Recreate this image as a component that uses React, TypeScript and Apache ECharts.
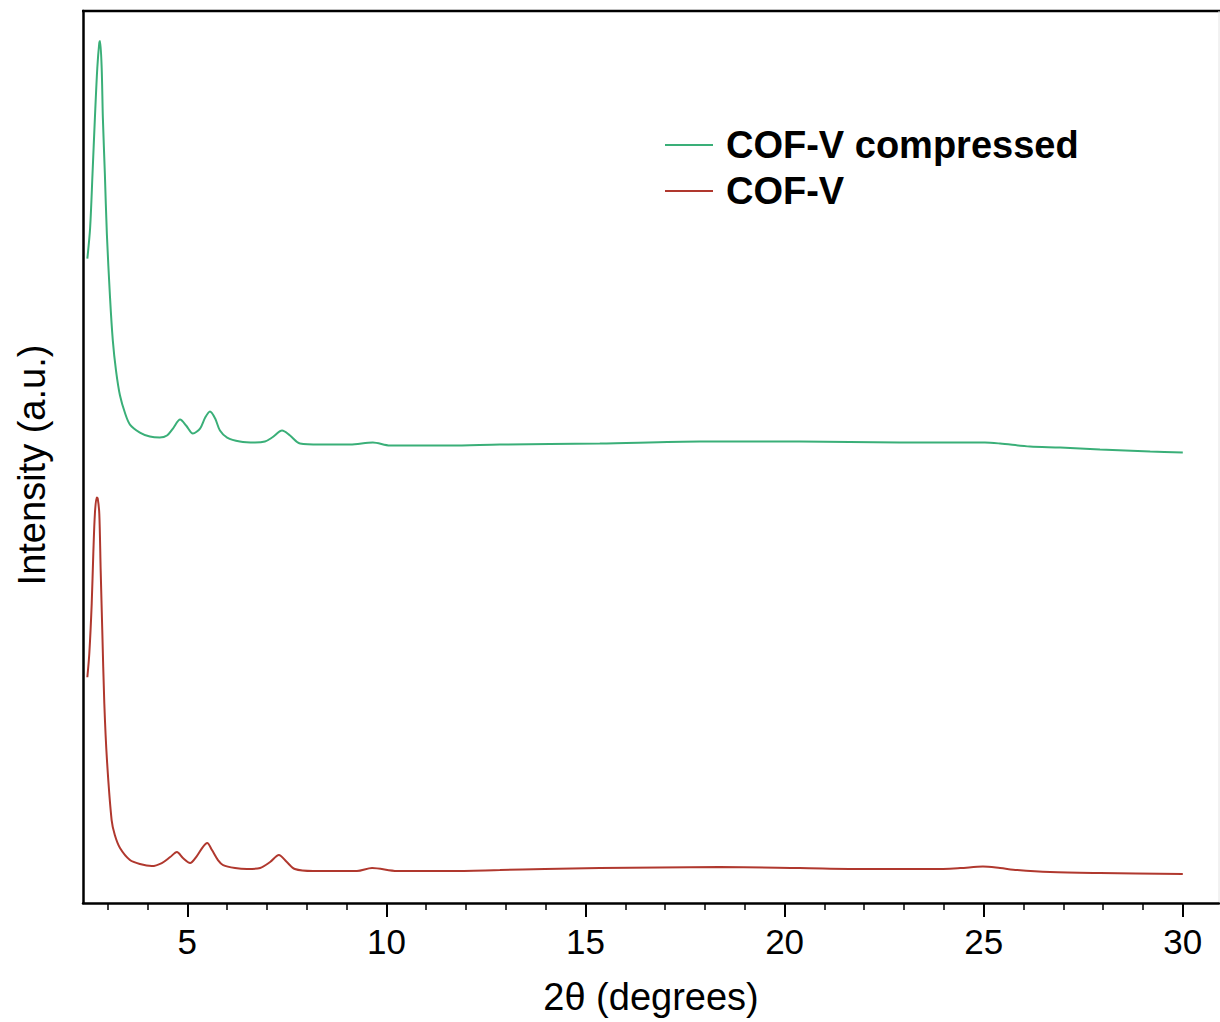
import React, { useEffect, useRef } from "react";
import * as echarts from "echarts";

// 2θ positions (degrees) and intensities (a.u.)
const compressedX = [2.49, 2.56, 2.62, 2.68, 2.74, 2.79, 2.81, 2.85, 2.88, 2.93, 2.98, 3.06, 3.13, 3.21, 3.31, 3.44, 3.56, 3.81, 4.06, 4.31, 4.49, 4.64, 4.82, 4.97, 5.14, 5.32, 5.45, 5.57, 5.70, 5.82, 6.0, 6.32, 6.7, 6.95, 7.13, 7.38, 7.58, 7.83, 8.33, 9.09, 9.66, 10.09, 11.6, 12.85, 15.36, 17.87, 20.38, 22.89, 25.03, 25.41, 26.16, 26.92, 27.92, 29.18, 30.0];
const compressedY = [645, 676, 730, 786, 836, 861, 863, 836, 786, 730, 670, 606, 563, 533, 508, 490, 479, 471, 467, 466, 468, 475, 484, 478, 470, 475, 486, 492, 485, 473, 466, 462, 461, 462, 466, 473, 468, 460, 459, 459, 461, 458, 458, 459, 460, 462, 462, 461, 461, 460, 457, 456, 454, 452, 451];

const pristineX = [2.49, 2.54, 2.6, 2.64, 2.68, 2.725, 2.75, 2.79, 2.825, 2.865, 2.916, 2.983, 3.1, 3.18, 3.31, 3.56, 3.81, 4.11, 4.36, 4.57, 4.74, 4.89, 5.07, 5.24, 5.39, 5.5, 5.62, 5.77, 5.9, 6.2, 6.5, 6.83, 7.08, 7.3, 7.5, 7.7, 8.16, 9.26, 9.64, 10.27, 11.6, 12.85, 13.98, 15.36, 18.37, 20.38, 22.07, 23.73, 24.41, 24.98, 25.41, 25.84, 26.67, 27.92, 30.0];
const pristineY = [226, 250, 300, 350, 390, 406, 405, 390, 333, 273, 200, 143, 83, 68, 55, 43, 39, 37, 40, 46, 51, 45, 40, 47, 56, 60, 53, 43, 38, 35, 34, 35, 41, 48, 41, 34, 32, 32, 35, 32, 32, 33, 34, 35, 36, 35, 34, 34, 35, 36.5, 35, 33, 31, 30, 29];

const xTickLabels = [5, 10, 15, 20, 25, 30];
const xMinorTicks = [3, 4, 6, 7, 8, 9, 11, 12, 13, 14, 16, 17, 18, 19, 21, 22, 23, 24, 26, 27, 28, 29];

const seriesNames = ["COF-V compressed", "COF-V"];
const seriesColors = ["#3aaf78", "#b0382e"];

const FONT = "'Liberation Sans', Arial, Helvetica, sans-serif";

export default function App() {
  const ref = useRef<HTMLDivElement>(null);

  useEffect(() => {
    if (!ref.current) return;
    const chart = echarts.init(ref.current, undefined, { renderer: "svg" });
    const X_MIN = 2.381;
    const X_MAX = 30.909;
    const zip = (xs: number[], ys: number[]) => xs.map((x, i) => [x, ys[i]]);

    chart.setOption({
      animation: false,
      backgroundColor: "#ffffff",
      grid: { left: 83, right: 1, top: 11, bottom: 119, containLabel: false },
      legend: {
        orient: "vertical",
        left: 660,
        top: 121,
        itemWidth: 48,
        itemHeight: 2,
        itemGap: 8,
        icon: "rect",
        data: seriesNames,
        textStyle: {
          fontFamily: FONT,
          fontSize: 38,
          fontWeight: "bold",
          color: "#000",
          padding: [0, 0, 0, 8],
        },
      },
      xAxis: [
        {
          type: "value",
          min: X_MIN,
          max: X_MAX,
          position: "bottom",
          splitLine: { show: false },
          axisLine: { show: true, lineStyle: { color: "#000", width: 2.5 } },
          axisTick: {
            show: true,
            customValues: xTickLabels,
            length: 14,
            lineStyle: { color: "#000", width: 2 },
          },
          axisLabel: {
            customValues: xTickLabels,
            fontFamily: FONT,
            fontSize: 35,
            color: "#000",
            margin: 21,
          },
          name: "2θ (degrees)",
          nameLocation: "middle",
          nameGap: 75,
          nameTextStyle: { fontFamily: FONT, fontSize: 38, color: "#000", verticalAlign: "top" },
        },
        {
          type: "value",
          min: X_MIN,
          max: X_MAX,
          position: "bottom",
          splitLine: { show: false },
          axisLine: { show: false },
          axisTick: {
            show: true,
            customValues: xMinorTicks,
            length: 7,
            lineStyle: { color: "#000", width: 1.5 },
          },
          axisLabel: { show: false },
        },
      ],
      yAxis: {
        type: "value",
        min: 0,
        max: 893,
        splitLine: { show: false },
        axisLine: { show: true, lineStyle: { color: "#000", width: 2.5 } },
        axisTick: { show: false },
        axisLabel: { show: false },
      },
      graphic: [
        {
          type: "line",
          shape: { x1: 82, y1: 11, x2: 1220, y2: 11 },
          style: { stroke: "#000", lineWidth: 2.5 },
        },
        {
          type: "line",
          shape: { x1: 1219, y1: 11, x2: 1219, y2: 903 },
          style: { stroke: "#e4e4e4", lineWidth: 1 },
        },
        {
          type: "text",
          x: 32,
          y: 465,
          rotation: Math.PI / 2,
          style: {
            text: "Intensity (a.u.)",
            fontFamily: FONT,
            fontSize: 38,
            fill: "#000",
            align: "center",
            verticalAlign: "middle",
          },
        },
      ],
      series: [
        {
          name: seriesNames[0],
          type: "line",
          xAxisIndex: 0,
          data: zip(compressedX, compressedY),
          showSymbol: false,
          smooth: 0.3,
          color: seriesColors[0],
          lineStyle: { width: 2, color: seriesColors[0] },
        },
        {
          name: seriesNames[1],
          type: "line",
          xAxisIndex: 0,
          data: zip(pristineX, pristineY),
          showSymbol: false,
          smooth: 0.3,
          color: seriesColors[1],
          lineStyle: { width: 2, color: seriesColors[1] },
        },
      ],
    });
    return () => chart.dispose();
  }, []);

  return (
    <div
      ref={ref}
      style={{ position: "fixed", left: 0, top: 0, width: 1220, height: 1022, background: "#fff" }}
    />
  );
}
